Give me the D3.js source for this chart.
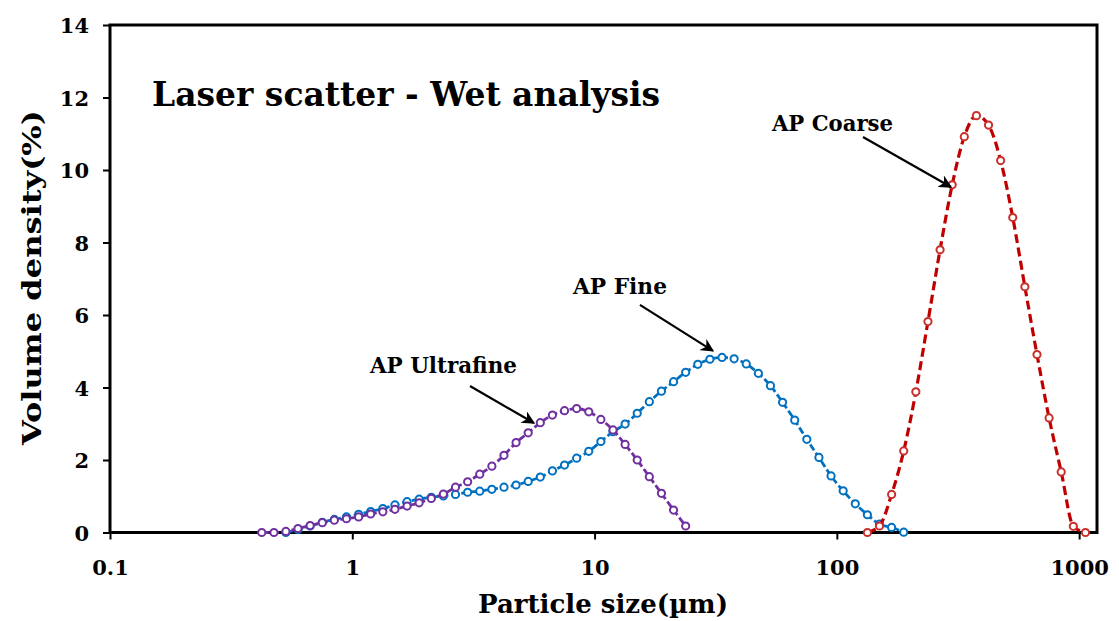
<!DOCTYPE html>
<html>
<head>
<meta charset="utf-8">
<script src="https://cdn.jsdelivr.net/npm/d3@7"></script>
<style>
  html, body { margin: 0; padding: 0; background: #fff; }
  svg { display: block; }
  text { font-family: "DejaVu Serif", "Liberation Serif", serif; font-weight: bold; fill: #000; }
</style>
</head>
<body>
<svg id="chart" width="1119" height="621"></svg>
<script>
// ---- Data ----
// Particle size class mid-points (µm), laser-diffraction bins
const sizes = [
  0.423, 0.475, 0.532, 0.597, 0.670, 0.752, 0.843, 0.946, 1.062, 1.191,
  1.337, 1.500, 1.683, 1.888, 2.119, 2.377, 2.667, 2.993, 3.358, 3.768,
  4.227, 4.743, 5.321, 5.971, 6.700, 7.517, 8.434, 9.463, 10.618, 11.913,
  13.367, 14.998, 16.828, 18.881, 21.185, 23.770, 26.671, 29.925, 33.576, 37.673,
  42.269, 47.427, 53.214, 59.708, 66.993, 75.168, 84.338, 94.630, 106.18, 119.13,
  133.67, 149.98, 168.28, 188.81, 211.85, 237.70, 266.70, 299.25, 335.76, 376.73,
  422.69, 474.27, 532.14, 597.07, 669.93, 751.67, 843.39, 946.30, 1061.75
];

// Volume density (%) per series; each series starts at the given index of `sizes`
const ultrafineStart = 0;
const ultrafine = [
  0.00, 0.00, 0.03, 0.11, 0.19, 0.27, 0.34, 0.38, 0.43, 0.51,
  0.57, 0.64, 0.73, 0.82, 0.94, 1.06, 1.25, 1.40, 1.61, 1.83,
  2.13, 2.48, 2.75, 3.03, 3.24, 3.36, 3.42, 3.33, 3.12, 2.83,
  2.43, 2.00, 1.54, 1.08, 0.62, 0.18
];

const fineStart = 2;
const fine = [
  0.00, 0.08, 0.18, 0.28, 0.36, 0.43, 0.50, 0.58, 0.66, 0.76,
  0.85, 0.92, 0.97, 1.01, 1.05, 1.11, 1.14, 1.19, 1.25, 1.31,
  1.41, 1.53, 1.70, 1.86, 2.05, 2.24, 2.51, 2.78, 2.99, 3.29,
  3.61, 3.90, 4.16, 4.42, 4.64, 4.78, 4.83, 4.79, 4.65, 4.39,
  4.05, 3.59, 3.10, 2.57, 2.07, 1.56, 1.15, 0.79, 0.49, 0.23,
  0.14, 0.01
];

const coarseStart = 50;
const coarse = [
  0.00, 0.18, 1.05, 2.25, 3.88, 5.82, 7.80, 9.59, 10.92, 11.50,
  11.24, 10.26, 8.69, 6.78, 4.91, 3.16, 1.67, 0.17, 0.00
];

const xTicks = [0.1, 1, 10, 100, 1000];
const xTickLabels = ["0.1", "1", "10", "100", "1000"];
const yTicks = [0, 2, 4, 6, 8, 10, 12, 14];

const titleText = "Laser scatter - Wet analysis";
const xTitle = "Particle size(\u00B5m)";
const yTitle = "Volume density(%)";

// annotations: label position and arrow (from -> to) in data units
const annotations = [
  { label: "AP Coarse",    lx: 95.9,  ly: 11.08, x1: 128.2, y1: 10.91, x2: 295.8, y2: 9.53, w: 121 },
  { label: "AP Fine",      lx: 12.73, ly: 6.58,  x1: 15.39, y1: 6.28,  x2: 30.8,  y2: 5.01, w: 94 },
  { label: "AP Ultrafine", lx: 2.378, ly: 4.40,  x1: 3.06,  y1: 4.04,  x2: 5.62,  y2: 3.02, w: 147 }
];

// ---- Layout ----
const W = 1119, H = 621;
const margin = { top: 25, right: 22, bottom: 88.5, left: 110 };
const svg = d3.select("#chart");

const x = d3.scaleLog().domain([0.1, 1185]).range([margin.left, W - margin.right]);
const y = d3.scaleLinear().domain([0, 14]).range([H - margin.bottom, margin.top]);

// defs: arrow marker
const defs = svg.append("defs");
defs.append("marker")
  .attr("id", "arrow")
  .attr("viewBox", "0 0 10 10")
  .attr("refX", 9).attr("refY", 5)
  .attr("markerWidth", 6).attr("markerHeight", 6)
  .attr("markerUnits", "strokeWidth")
  .attr("orient", "auto")
  .append("path")
  .attr("d", "M0,0 L10,5 L0,10 L3,5 Z")
  .attr("fill", "#000");

// axes
const yAxis = svg.append("g")
  .attr("transform", `translate(${margin.left},0)`)
  .call(d3.axisLeft(y).tickValues(yTicks).tickFormat(d3.format("d")).tickSize(7).tickPadding(14));
yAxis.select(".domain").remove();
yAxis.selectAll(".tick line").attr("stroke", "#000").attr("stroke-width", 2);
yAxis.selectAll(".tick text")
  .style("font-size", "21px").style("font-family", "'DejaVu Serif', serif").style("font-weight", "bold")
  .attr("dy", "0.36em");

const xAxis = svg.append("g")
  .attr("transform", `translate(0,${H - margin.bottom})`)
  .call(d3.axisBottom(x).tickValues(xTicks).tickFormat((d, i) => xTickLabels[i]).tickSize(7));
xAxis.select(".domain").remove();
xAxis.selectAll(".tick line").attr("stroke", "#000").attr("stroke-width", 2);
xAxis.selectAll(".tick text")
  .style("font-size", "21px").style("font-family", "'DejaVu Serif', serif").style("font-weight", "bold")
  .attr("y", 42).attr("dy", 0);

// frame
svg.append("rect")
  .attr("x", margin.left).attr("y", margin.top)
  .attr("width", W - margin.left - margin.right)
  .attr("height", H - margin.top - margin.bottom)
  .attr("fill", "none").attr("stroke", "#000").attr("stroke-width", 3);

// series
function seriesPoints(start, vals) {
  return vals.map((v, i) => ({ s: sizes[start + i], v }));
}
const series = [
  { pts: seriesPoints(fineStart, fine), color: "#0070C0", marker: "#0070C0", dash: "7,3", width: 2.8 },
  { pts: seriesPoints(ultrafineStart, ultrafine), color: "#7030A0", marker: "#7030A0", dash: "7,3", width: 2.8 },
  { pts: seriesPoints(coarseStart, coarse), color: "#C00000", marker: "#C9302C", dash: "9,4.5", width: 3.2 }
];

const line = d3.line().x(d => x(d.s)).y(d => y(d.v)).curve(d3.curveMonotoneX);

series.forEach(sr => {
  const g = svg.append("g");
  g.append("path")
    .datum(sr.pts)
    .attr("d", line)
    .attr("fill", "none")
    .attr("stroke", sr.color)
    .attr("stroke-width", sr.width)
    .attr("stroke-dasharray", sr.dash);
  g.selectAll("circle")
    .data(sr.pts)
    .join("circle")
    .attr("cx", d => x(d.s))
    .attr("cy", d => y(d.v))
    .attr("r", 3.6)
    .attr("fill", "#fff")
    .attr("stroke", sr.marker)
    .attr("stroke-width", 2);
});

// title
svg.append("text")
  .attr("x", 152).attr("y", 106)
  .attr("textLength", 508).attr("lengthAdjust", "spacingAndGlyphs")
  .style("font-size", "33px")
  .text(titleText);

// annotations
annotations.forEach(a => {
  svg.append("text")
    .attr("x", x(a.lx)).attr("y", y(a.ly))
    .attr("text-anchor", "middle")
    .attr("textLength", a.w).attr("lengthAdjust", "spacingAndGlyphs")
    .style("font-size", "22px")
    .text(a.label);
  svg.append("line")
    .attr("x1", x(a.x1)).attr("y1", y(a.y1))
    .attr("x2", x(a.x2)).attr("y2", y(a.y2))
    .attr("stroke", "#000").attr("stroke-width", 2.2)
    .attr("marker-end", "url(#arrow)");
});

// axis titles
svg.append("text")
  .attr("x", 603).attr("y", 613)
  .attr("text-anchor", "middle")
  .attr("textLength", 250).attr("lengthAdjust", "spacingAndGlyphs")
  .style("font-size", "26px")
  .text(xTitle);

svg.append("text")
  .attr("transform", "translate(41,277.5) rotate(-90)")
  .attr("text-anchor", "middle")
  .attr("textLength", 335).attr("lengthAdjust", "spacingAndGlyphs")
  .style("font-size", "26px")
  .text(yTitle);
</script>
</body>
</html>
